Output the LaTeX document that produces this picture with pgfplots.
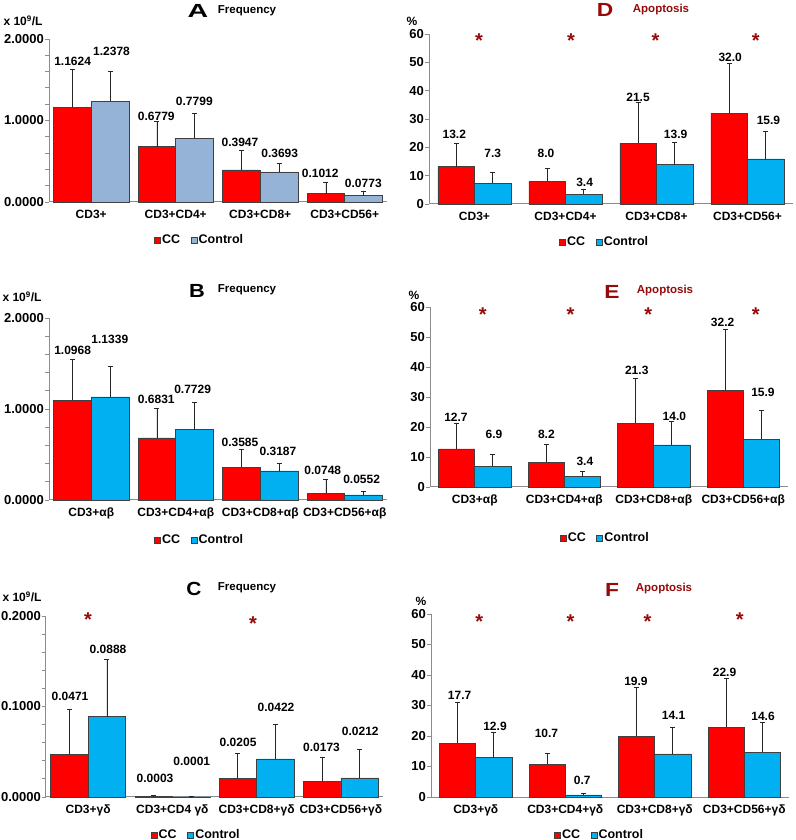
\documentclass[border=0pt]{standalone}
\usepackage{fontspec}
\setmainfont{Liberation Sans}
\usepackage{graphicx}
\usepackage{pgfplots}
\pgfplotsset{compat=1.18}
\usepackage{pgfplotstable}

\definecolor{ccred}{RGB}{255,0,0}
\definecolor{ctlblue}{RGB}{0,176,240}
\definecolor{ltblue}{RGB}{149,179,215}
\definecolor{dred}{RGB}{150,10,10}
\definecolor{axgray}{RGB}{140,140,140}

\newcommand{\ftick}{\fontsize{13}{15}\selectfont\bfseries}
\newcommand{\fcat}{\fontsize{12}{14}\selectfont\bfseries}
\newcommand{\fval}{\fontsize{12}{14}\selectfont\bfseries}
\newcommand{\fleg}{\fontsize{12.5}{14}\selectfont\bfseries}
\newcommand{\ftitle}{\fontsize{11.5}{13}\selectfont\bfseries}
\newcommand{\fbig}{\fontsize{19}{20}\selectfont\bfseries}

\pgfplotsset{
  panel/.style={scale only axis, clip=false, xmin=-0.5, xmax=3.5, ymin=0,
    xtick={0,1,2,3}, axis lines*=left,
    axis line style={draw=axgray, line width=1pt},
    xtick style={draw=none},
    ytick style={draw=axgray, line width=0.8pt},
    minor tick style={draw=axgray, line width=0.8pt},
    tick align=outside, major tick length=4pt, minor tick length=4pt,
    xticklabel style={font=\fcat, inner sep=2pt, yshift=-2pt},
    yticklabel style={font=\ftick, inner sep=1pt},
    legend style={draw=none, fill=none, font=\fleg, legend columns=2, anchor=center,
      inner sep=0pt, /tikz/every even column/.append style={column sep=9pt},
      nodes={inner sep=1.5pt}},
  },
  sqleg/.style={legend image code/.code={\draw[##1, line width=0.5pt] (0pt,-3pt) rectangle (6pt,3pt);}},
  barbase/.style={ybar, bar width=#1, bar shift=0pt, draw=black!75, line width=0.6pt, sqleg,
    error bars/y dir=plus, error bars/y explicit,
    error bars/error bar style={black!85, line width=0.8pt},
    error bars/error mark options={rotate=90, black!85, mark size=2.5pt, line width=0.8pt}},
  labs/.style={draw=none, mark=none, forget plot, nodes near coords, point meta=explicit symbolic,
    nodes near coords align=center, every node near coord/.append style={font=\fval, inner sep=0pt}},
  stars/.style={draw=none, mark=none, forget plot, nodes near coords, point meta=explicit symbolic,
    nodes near coords align=center, every node near coord/.append style={font=\fontsize{20}{20}\selectfont\bfseries, text=dred, inner sep=0pt}},
}

\begin{document}
\begin{tikzpicture}[x=1pt,y=1pt]
\useasboundingbox (0,0) rectangle (795,840);

% ---------------- A ----------------
\begin{axis}[panel, at={(49pt,638pt)}, anchor=south west, width=338pt, height=163pt,
  ymax=2, ytick={0,1,2}, yticklabels={0.0000,1.0000,2.0000},
  minor ytick={0.2,0.4,0.6,0.8,1.2,1.4,1.6,1.8},
  xticklabels={CD3+,CD3+CD4+,CD3+CD8+,CD3+CD56+},
  legend style={at={(0.445,-0.233)}}]
\addplot[barbase=0.446, fill=ccred] table[x=x,y=y,y error=e] {
x y e
-0.223 1.1624 0.468
0.777 0.6779 0.308
1.777 0.3947 0.234
2.777 0.1012 0.145
};
\addplot[barbase=0.446, fill=ltblue] table[x=x,y=y,y error=e] {
x y e
0.223 1.2378 0.368
1.223 0.7799 0.305
2.223 0.3693 0.107
3.223 0.0773 0.058
};
\legend{CC,Control}
\addplot[labs] table[meta=l] {
x y l
-0.22 1.725 1.1624
0.24 1.848 1.2378
0.77 1.047 0.6779
1.22 1.232 0.7799
1.76 0.727 0.3947
2.23 0.595 0.3693
2.71 0.357 0.1012
3.22 0.226 0.0773
};
\end{axis}

% ---------------- B ----------------
\begin{axis}[panel, at={(49pt,340pt)}, anchor=south west, width=338pt, height=182pt,
  ymax=2, ytick={0,1,2}, yticklabels={0.0000,1.0000,2.0000},
  minor ytick={0.2,0.4,0.6,0.8,1.2,1.4,1.6,1.8},
  xticklabels={CD3+αβ,CD3+CD4+αβ,CD3+CD8+αβ,CD3+CD56+αβ},
  legend style={at={(0.445,-0.22)}}]
\addplot[barbase=0.446, fill=ccred] table[x=x,y=y,y error=e] {
x y e
-0.223 1.0968 0.452
0.777 0.6831 0.319
1.777 0.3585 0.192
2.777 0.0748 0.153
};
\addplot[barbase=0.446, fill=ctlblue] table[x=x,y=y,y error=e] {
x y e
0.223 1.1339 0.330
1.223 0.7729 0.299
2.223 0.3187 0.081
3.223 0.0552 0.037
};
\legend{CC,Control}
\addplot[labs] table[meta=l] {
x y l
-0.22 1.644 1.0968
0.22 1.769 1.1339
0.77 1.108 0.6831
1.20 1.218 0.7729
1.76 0.631 0.3585
2.21 0.532 0.3187
2.74 0.323 0.0748
3.20 0.228 0.0552
};
\end{axis}

% ---------------- C ----------------
\begin{axis}[panel, at={(46pt,43pt)}, anchor=south west, width=337pt, height=181pt,
  ymax=0.2, ytick={0,0.1,0.2}, yticklabels={0.0000,0.1000,0.2000},
  minor ytick={0.02,0.04,0.06,0.08,0.12,0.14,0.16,0.18},
  xticklabels={CD3+γδ,CD3+CD4 γδ,CD3+CD8+γδ,CD3+CD56+γδ},
  legend style={at={(0.445,-0.21)}}]
\addplot[barbase=0.446, fill=ccred] table[x=x,y=y,y error=e] {
x y e
-0.223 0.0471 0.0492
0.777 0.0003 0.0012
1.777 0.0205 0.0275
2.777 0.0173 0.0262
};
\addplot[barbase=0.446, fill=ctlblue] table[x=x,y=y,y error=e] {
x y e
0.223 0.0888 0.0632
1.223 0.0001 0.0003
2.223 0.0422 0.0382
3.223 0.0212 0.0312
};
\legend{CC,Control}
\addplot[labs] table[meta=l] {
x y l
-0.215 0.1107 0.0471
0.236 0.1631 0.0888
0.794 0.0203 0.0003
1.23 0.0399 0.0001
1.78 0.0609 0.0205
2.23 0.0989 0.0422
2.77 0.0546 0.0173
3.23 0.0720 0.0212
};
\addplot[stars] table[meta=l] {
x y l
0 0.196 *
1.957 0.192 *
};
\end{axis}

% ---------------- D ----------------
\begin{axis}[panel, at={(429pt,636pt)}, anchor=south west, width=364pt, height=170pt,
  ymax=60, ytick={0,10,20,30,40,50,60}, yticklabels={0,10,20,30,40,50,60},
  xticklabels={CD3+,CD3+CD4+,CD3+CD8+,CD3+CD56+},
  legend style={at={(0.482,-0.224)}}]
\addplot[barbase=0.403, fill=ccred] table[x=x,y=y,y error=e] {
x y e
-0.2015 13.2 8.25
0.7985 8.0 4.6
1.7985 21.5 14.45
2.7985 32.0 17.7
};
\addplot[barbase=0.403, fill=ctlblue] table[x=x,y=y,y error=e] {
x y e
0.2015 7.3 4.0
1.2015 3.4 1.9
2.2015 13.9 7.8
3.2015 15.9 9.8
};
\legend{CC,Control}
\addplot[labs] table[meta=l] {
x y l
-0.222 24.6 13.2
0.20 17.7 7.3
0.786 17.7 8.0
1.21 7.5 3.4
1.797 37.7 21.5
2.21 24.6 13.9
2.81 51.75 32.0
3.23 29.5 15.9
};
\addplot[stars] table[meta=l] {
x y l
0.05 57.8 *
1.06 57.8 *
1.99 57.8 *
3.09 57.8 *
};
\end{axis}

% ---------------- E ----------------
\begin{axis}[panel, at={(430pt,353pt)}, anchor=south west, width=358pt, height=180pt,
  ymax=60, ytick={0,10,20,30,40,50,60}, yticklabels={0,10,20,30,40,50,60},
  xticklabels={CD3+αβ,CD3+CD4+αβ,CD3+CD8+αβ,CD3+CD56+αβ},
  legend style={at={(0.489,-0.283)}}]
\addplot[barbase=0.405, fill=ccred] table[x=x,y=y,y error=e] {
x y e
-0.2025 12.7 8.55
0.7975 8.2 6.08
1.7975 21.3 14.9
2.7975 32.2 20.3
};
\addplot[barbase=0.405, fill=ctlblue] table[x=x,y=y,y error=e] {
x y e
0.2025 6.9 3.95
1.2025 3.4 1.9
2.2025 14.0 7.9
3.2025 15.9 9.56
};
\legend{CC,Control}
\addplot[labs] table[meta=l] {
x y l
-0.21 23.1 12.7
0.215 17.4 6.9
0.80 17.4 8.2
1.23 8.5 3.4
1.81 39.0 21.3
2.23 23.7 14.0
2.77 55.0 32.2
3.22 31.4 15.9
};
\addplot[stars] table[meta=l] {
x y l
0.09 57.3 *
1.07 57.3 *
1.94 57.3 *
3.14 57.3 *
};
\end{axis}

% ---------------- F ----------------
\begin{axis}[panel, at={(431pt,43pt)}, anchor=south west, width=358pt, height=183pt,
  ymax=60, ytick={0,10,20,30,40,50,60}, yticklabels={0,10,20,30,40,50,60},
  xticklabels={CD3+γδ,CD3+CD4+γδ,CD3+CD8+γδ,CD3+CD56+γδ},
  legend style={at={(0.47,-0.208)}}]
\addplot[barbase=0.405, fill=ccred] table[x=x,y=y,y error=e] {
x y e
-0.2025 17.7 13.4
0.7975 10.7 3.5
1.7975 19.9 15.9
2.7975 22.9 15.9
};
\addplot[barbase=0.405, fill=ctlblue] table[x=x,y=y,y error=e] {
x y e
0.2025 12.9 8.4
1.2025 0.7 0.6
2.2025 14.1 8.85
3.2025 14.6 9.8
};
\legend{CC,Control}
\addplot[labs] table[meta=l] {
x y l
-0.18 33.4 17.7
0.215 23.1 12.9
0.79 20.9 10.7
1.19 5.35 0.7
1.79 37.8 19.9
2.21 26.9 14.1
2.78 40.8 22.9
3.21 26.3 14.6
};
\addplot[stars] table[meta=l] {
x y l
0.04 57.4 *
1.06 57.4 *
1.92 57.4 *
2.95 58.3 *
};
\end{axis}

% ---------------- titles and unit labels ----------------
\node at (198,829) {\scalebox{1.5}[1]{\fbig A}};
\node at (247,829) {\ftitle Frequency};
\node at (197,549) {\scalebox{1.15}[1]{\fbig B}};
\node at (247,550) {\ftitle Frequency};
\node at (194,251) {\scalebox{1.1}[1]{\fbig C}};
\node at (247,252) {\ftitle Frequency};
\node[text=dred] at (605,830) {\scalebox{1.2}[1]{\fbig D}};
\node[text=dred] at (661,830) {\ftitle Apoptosis};
\node[text=dred] at (612,548) {\scalebox{1.2}[1]{\fbig E}};
\node[text=dred] at (665,549) {\ftitle Apoptosis};
\node[text=dred] at (612,250) {\scalebox{1.2}[1]{\fbig F}};
\node[text=dred] at (664,251) {\ftitle Apoptosis};

\node at (23,819) {\fcat x 10\textsuperscript{9}/L};
\node at (22,543) {\fcat x 10\textsuperscript{9}/L};
\node at (22,243) {\fcat x 10\textsuperscript{9}/L};
\node at (412,819) {\fcat \%};
\node at (414,545) {\fcat \%};
\node at (421,239) {\fcat \%};
\end{tikzpicture}
\end{document}
